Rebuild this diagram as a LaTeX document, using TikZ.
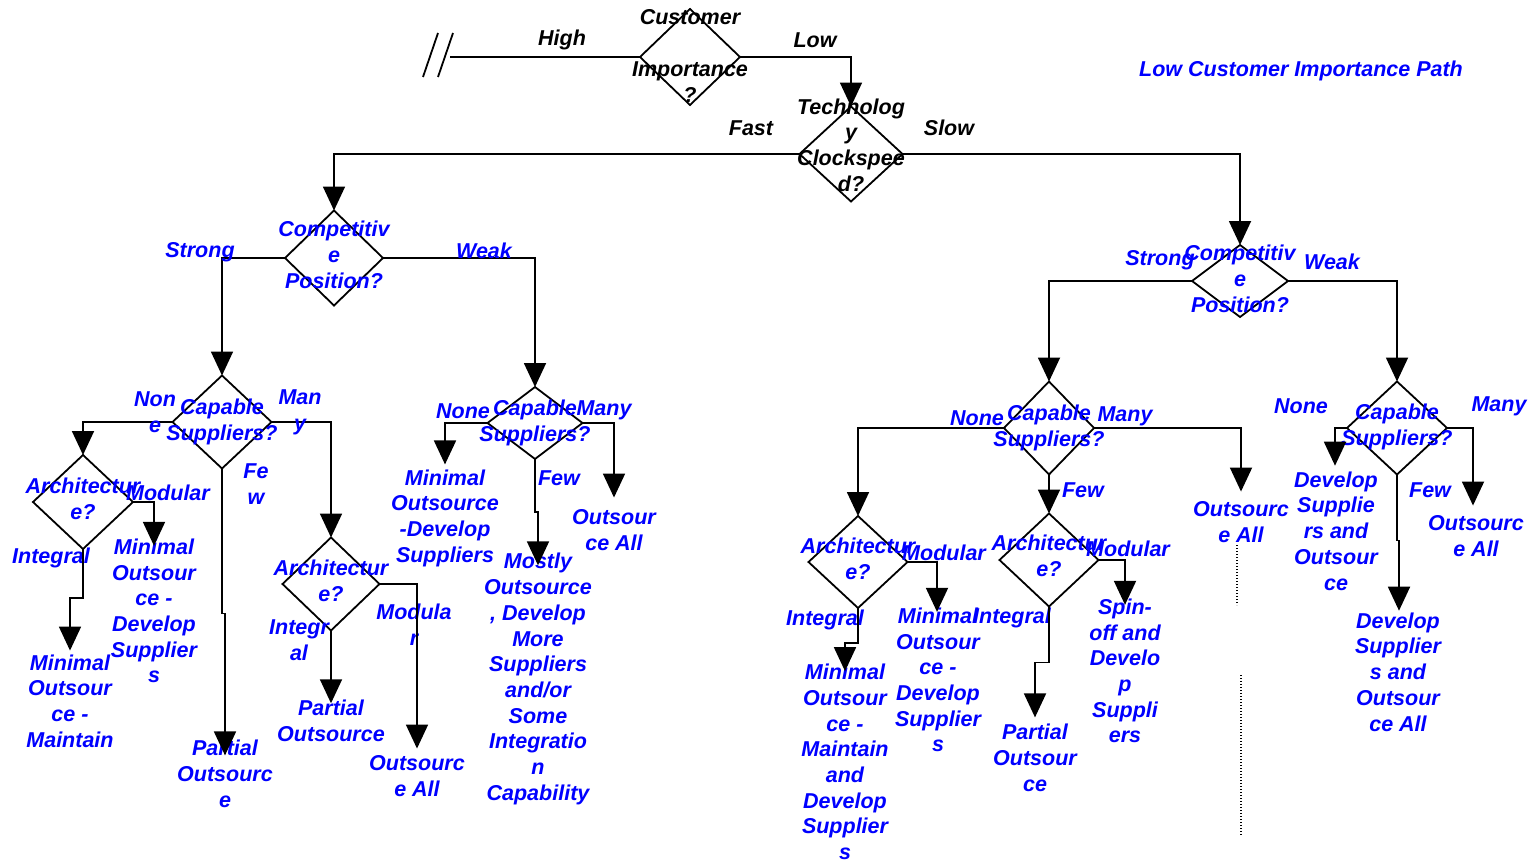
\documentclass[tikz,border=0pt]{standalone}
\usepackage{fontspec}
\setmainfont{Liberation Sans}
\usetikzlibrary{shapes.geometric,arrows.meta}
\definecolor{pathblue}{RGB}{0,0,255}
\begin{document}
\begin{tikzpicture}[x=1pt,y=-1pt,
  txt/.style={font=\fontsize{21.5}{25.7}\selectfont\bfseries\itshape, inner sep=0pt, outer sep=0pt, align=center},
  bluetxt/.style={txt, text=pathblue},
  blacktxt/.style={txt, text=black},
  decision/.style 2 args={draw, diamond, line width=1.8pt, inner sep=0pt, outer sep=0pt, minimum width=#1, minimum height=#2},
  link/.style={line width=1.8pt},
  flow/.style={link, -{Triangle[width=22pt,length=24pt]}},
  dots/.style={line width=1.4pt, dash pattern=on 1.4pt off 1.6pt}
]
\useasboundingbox (0,0) rectangle (1530,859);

% ---------- top decisions ----------
\node[decision={100pt}{96pt}, label={[blacktxt,yshift=1pt]center:{Customer\\[25.7pt]Importance\\?}}] (d1) at (690,57) {};
\node[decision={103pt}{95pt}, label={[blacktxt,yshift=9pt]center:{Technolog\\y\\Clockspee\\d?}}] (d2) at (851,154) {};

\coordinate (brk) at (450,57);
\draw[link] (423,77) -- (438,33) (438,77) -- (453,33);
\draw[link] (brk) -- (d1.west);
\draw[flow] (d1.east) -| (d2.north);

\node[blacktxt] (high) at (562,40) {High};
\node[blacktxt] (low) at (815,40) {Low};
\node[blacktxt] (fast) at (751,128) {Fast};
\node[blacktxt] (slow) at (949,128) {Slow};

\node[bluetxt] (title) at (1301,71) {Low Customer Importance Path};

% ---------- fast clockspeed branch ----------
\node[decision={98pt}{95pt}, label={[bluetxt,yshift=3pt]center:{Competitiv\\e\\Position?}}] (d3) at (334,258) {};
\node[decision={99pt}{93pt}, label={[bluetxt]center:{Capable\\Suppliers?}}] (d4) at (222,422) {};
\node[decision={95pt}{72pt}, label={[bluetxt]center:{Capable\\Suppliers?}}] (d5) at (535,423) {};
\node[decision={100pt}{94pt}, label={[bluetxt,yshift=3pt]center:{Architectur\\e?}}] (d7) at (83,502) {};
\node[decision={97pt}{93pt}, label={[bluetxt,yshift=3pt]center:{Architectur\\e?}}] (d8) at (331,584) {};

\draw[flow] (d2.west) -| (d3.north);
\draw[flow] (d3.west) -| (d4.north);
\draw[flow] (d3.east) -| (d5.north);
\draw[flow] (d4.west) -| (d7.north);
\draw[flow] (d4.east) -| (d8.north);

\node[bluetxt] (strongL) at (200,252) {Strong};
\node[bluetxt] (weakL) at (484,251) {Weak};
\node[bluetxt] (none4) at (155,412) {Non\\e};
\node[bluetxt] (many4) at (300,412) {Man\\y};
\node[bluetxt] (few4) at (256,484) {Fe\\w};
\node[bluetxt] (mod7) at (168,493) {Modular};
\node[bluetxt] (int7) at (51,558) {Integral};
\node[bluetxt] (int8) at (299,640) {Integr\\al};
\node[bluetxt] (mod8) at (414,625) {Modula\\r};
\node[bluetxt] (none5) at (463,411) {None};
\node[bluetxt] (many5) at (604,410) {Many};
\node[bluetxt] (few5) at (559,478) {Few};

\node[bluetxt] (t7m) at (154,611) {Minimal\\Outsour\\ce -\\Develop\\Supplier\\s};
\node[bluetxt] (t7i) at (70,701) {Minimal\\Outsour\\ce -\\Maintain};
\node[bluetxt] (t4f) at (225,774) {Partial\\Outsourc\\e};
\node[bluetxt] (t8i) at (331,721) {Partial\\Outsource};
\node[bluetxt] (t8m) at (417,776) {Outsourc\\e All};
\node[bluetxt] (t5n) at (445,518) {Minimal\\Outsource\\-Develop\\Suppliers};
\node[bluetxt] (t5m) at (614,530) {Outsour\\ce All};
\node[bluetxt] (t5f) at (538,679) {Mostly\\Outsource\\, Develop\\More\\Suppliers\\and/or\\Some\\Integratio\\n\\Capability};

\draw[flow] (d7.east) -| ([yshift=-7pt]t7m.north);
\draw[flow] (d7.south) -- ++(0,49) -| ([yshift=4pt]t7i.north);
\draw[flow] (d4.south) -- ++(0,145) -| ([yshift=-15pt]t4f.north);
\draw[flow] (d8.south) -- ([yshift=-3pt]t8i.north);
\draw[flow] (d8.east) -| ([yshift=7pt]t8m.north);
\draw[flow] (d5.west) -| ([yshift=5pt]t5n.north);
\draw[flow] (d5.east) -| ([yshift=12pt]t5m.north);
\draw[flow] (d5.south) -- ++(0,53) -| ([yshift=-12pt]t5f.north);

% ---------- slow clockspeed branch ----------
\node[decision={96pt}{72pt}, label={[bluetxt,yshift=2pt]center:{Competitiv\\e\\Position?}}] (d6) at (1240,281) {};
\node[decision={90pt}{93pt}, label={[bluetxt]center:{Capable\\Suppliers?}}] (d9) at (1049,428) {};
\node[decision={100pt}{93pt}, label={[bluetxt,yshift=1pt]center:{Capable\\Suppliers?}}] (d10) at (1397,428) {};
\node[decision={99pt}{92pt}, label={[bluetxt,yshift=3pt]center:{Architectur\\e?}}] (d11) at (858,562) {};
\node[decision={99pt}{93pt}, label={[bluetxt,yshift=4pt]center:{Architectur\\e?}}] (d12) at (1049,560) {};

\draw[flow] (d2.east) -| (d6.north);
\draw[flow] (d6.west) -| (d9.north);
\draw[flow] (d6.east) -| (d10.north);
\draw[flow] (d9.west) -| (d11.north);
\draw[flow] (d9.south) -- (d12.north);

\node[bluetxt] (strongR) at (1160,260) {Strong};
\node[bluetxt] (weakR) at (1332,262) {Weak};
\node[bluetxt] (none9) at (977,418) {None};
\node[bluetxt] (many9) at (1125,416) {Many};
\node[bluetxt] (few9) at (1083,490) {Few};
\node[bluetxt] (mod11) at (944,553) {Modular};
\node[bluetxt] (int11) at (825,620) {Integral};
\node[bluetxt] (mod12) at (1128,549) {Modular};
\node[bluetxt] (int12) at (1012,618) {Integral};
\node[bluetxt] (none10) at (1301,406) {None};
\node[bluetxt] (many10) at (1499,406) {Many};
\node[bluetxt] (few10) at (1430,490) {Few};

\node[bluetxt] (t9m) at (1241,522) {Outsourc\\e All};
\node[bluetxt] (t11m) at (938,680) {Minimal\\Outsour\\ce -\\Develop\\Supplier\\s};
\node[bluetxt] (t11i) at (845,762) {Minimal\\Outsour\\ce -\\Maintain\\and\\Develop\\Supplier\\s};
\node[bluetxt] (t12m) at (1125,671) {Spin-\\off and\\Develo\\p\\Suppli\\ers};
\node[bluetxt] (t12i) at (1035,758) {Partial\\Outsour\\ce};
\node[bluetxt] (t10n) at (1336,531) {Develop\\Supplie\\rs and\\Outsour\\ce};
\node[bluetxt] (t10m) at (1476,536) {Outsourc\\e All};
\node[bluetxt] (t10f) at (1398,672) {Develop\\Supplier\\s and\\Outsour\\ce All};

\draw[flow] (d9.east) -| ([yshift=10pt]t9m.north);
\draw[flow] (d11.east) -| ([xshift=-1pt,yshift=-4pt]t11m.north);
\draw[flow] (d11.south) -- ++(0,35) -| ([yshift=-7pt]t11i.north);
\draw[flow] (d12.east) -| ([yshift=-6pt]t12m.north);
\draw[flow] (d12.south) -- ++(0,56) -| ([yshift=7pt]t12i.north);
\draw[flow] (d10.west) -| ([xshift=-1pt,yshift=6pt]t10n.north);
\draw[flow] (d10.east) -| ([xshift=-3pt,yshift=10pt]t10m.north);
\draw[flow] (d10.south) -- ++(0,66) -| ([xshift=1pt,yshift=2pt]t10f.north);

% dotted continuation marks
\draw[dots] (1237,545) -- (1237,605);
\draw[dots] (1241,675) -- (1241,835);
\end{tikzpicture}
\end{document}
